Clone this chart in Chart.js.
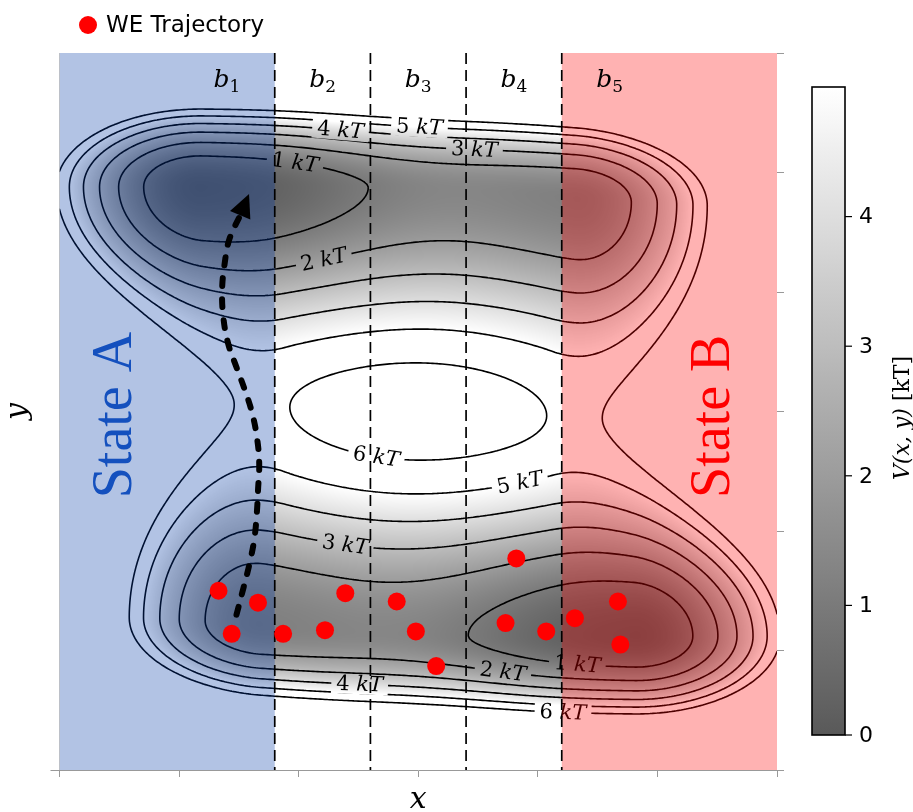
<!DOCTYPE html>
<html>
<head>
<meta charset="utf-8">
<script src="https://cdn.jsdelivr.net/npm/chart.js@4.4.1/dist/chart.umd.min.js"></script>
<style>
  html, body { margin: 0; padding: 0; background: #fff; }
  #wrap { width: 913px; height: 812px; }
</style>
</head>
<body>
<div id="wrap"><canvas id="chart" width="913" height="812"></canvas></div>
<script>
// ---------------------------------------------------------------
// Data (data units, axes run 0..6)
// ---------------------------------------------------------------
const weX = [1.33, 1.66, 1.44, 1.87, 2.22, 2.39, 2.82, 2.98, 3.15, 3.82, 3.73, 4.07, 4.31, 4.67, 4.69];
const weY = [1.50, 1.40, 1.14, 1.14, 1.17, 1.48, 1.41, 1.16, 0.87, 1.77, 1.23, 1.16, 1.27, 1.41, 1.05];

// dashed arrow path, last point is the arrow tip
const arrowX = [1.48, 1.54, 1.59, 1.63, 1.65, 1.66, 1.67, 1.65, 1.61, 1.55, 1.48, 1.41, 1.37, 1.36, 1.38, 1.42, 1.51, 1.585];
const arrowY = [1.30, 1.53, 1.73, 1.94, 2.15, 2.34, 2.57, 2.79, 2.99, 3.18, 3.37, 3.57, 3.79, 4.02, 4.23, 4.44, 4.64, 4.82];

const binEdges = [1.8, 2.6, 3.4, 4.2];
const binLabelX = [1.4, 2.2, 3.0, 3.8, 4.6];
const binLabels = ['1', '2', '3', '4', '5'];
const stateA = [0, 1.8];
const stateB = [4.2, 6];

const contourLevels = [1, 2, 3, 4, 5, 6];
const labelLevel = [1, 4, 5, 3, 2, 6, 5, 3, 4, 2, 1, 6];
const labelX = [1.97, 2.35, 3.01, 3.47, 2.22, 2.65, 3.85, 2.39, 2.50, 3.71, 4.34, 4.21];
const labelY = [5.04, 5.36, 5.40, 5.21, 4.25, 2.68, 2.45, 1.93, 0.71, 0.88, 0.94, 0.52];

const cbTicks = [0, 1, 2, 3, 4];
const cbMax = 5;

// ---------------------------------------------------------------
// Model potential V(x, y) in kT (two channels, two wells each,
// point symmetric about the centre (3, 3))
// ---------------------------------------------------------------
const wellLeftX = 1.2, wellRightX = 4.31, wellRightDepth = 1.1, endWallK = 4;
const stepMid = 2.2, stepWidth = 0.35, bumpX = 3.2, bumpH = 0.3, bumpW = 0.6;
const chanY0 = 4.88, chanDrop = 0.17, dropX = 4.2, dropW = 0.5;
const outerWallK = 14;
const ridgeBase = 6.6, ridgeCurv = 0.52, ridgeEndK = 3.6, ridgeEdge = 1.88;

const sig = z => 1 / (1 + Math.exp(-z));
const gauss = (z, w) => Math.exp(-z * z / (2 * w * w));
const sq = z => z * z;

function chanFloor(x) {
  const l = Math.max(0, wellLeftX - x), r = Math.max(0, x - wellRightX);
  return endWallK * (l * l + r * r) + wellRightDepth * sig((x - stepMid) / stepWidth) + bumpH * gauss(x - bumpX, bumpW);
}
function chanCenter(x) {
  return chanY0 - chanDrop * sig((x - dropX) / dropW);
}
function ridge(x) {
  return ridgeBase - ridgeCurv * sq(x - 3)
    + ridgeEndK * (sq(Math.max(0, ridgeEdge - x)) + sq(Math.max(0, x - (6 - ridgeEdge))));
}
function V(x, y) {
  const yU = chanCenter(x), yL = 6 - chanCenter(6 - x);
  const fU = chanFloor(x), fL = chanFloor(6 - x);
  if (y >= yU) return fU + outerWallK * (y - yU) ** 2;
  if (y <= yL) return fL + outerWallK * (yL - y) ** 2;
  const R = ridge(x);
  const t = (y - yL) / (yU - yL);
  if (t >= 0.5) return R - (R - fU) * (1 - Math.cos(Math.PI * (2 * t - 1))) / 2;
  return R - (R - fL) * (1 - Math.cos(Math.PI * (1 - 2 * t))) / 2;
}

// gray colormap shown at 65% opacity over white
const heatAlpha = 0.65;
function heatGray(v) {
  const s = Math.min(1, Math.max(0, v / cbMax));
  return Math.round(255 - heatAlpha * 255 * (1 - s));
}

// ---------------------------------------------------------------
// Contours (marching squares on a grid in data space)
// ---------------------------------------------------------------
const NG = 300, GS = 6 / NG;
const grid = [];
for (let j = 0; j <= NG; j++) {
  const row = new Float64Array(NG + 1);
  for (let i = 0; i <= NG; i++) row[i] = V(i * GS, j * GS);
  grid.push(row);
}
function contourSegments(level) {
  const segs = [];
  for (let j = 0; j < NG; j++) {
    for (let i = 0; i < NG; i++) {
      const a = grid[j][i], b = grid[j][i + 1], c = grid[j + 1][i + 1], d = grid[j + 1][i];
      const idx = (a > level ? 1 : 0) | (b > level ? 2 : 0) | (c > level ? 4 : 0) | (d > level ? 8 : 0);
      if (idx === 0 || idx === 15) continue;
      const x0 = i * GS, y0 = j * GS;
      const e = [];
      if ((a > level) !== (b > level)) e[0] = [x0 + GS * (level - a) / (b - a), y0];
      if ((b > level) !== (c > level)) e[1] = [x0 + GS, y0 + GS * (level - b) / (c - b)];
      if ((d > level) !== (c > level)) e[2] = [x0 + GS * (level - d) / (c - d), y0 + GS];
      if ((a > level) !== (d > level)) e[3] = [x0, y0 + GS * (level - a) / (d - a)];
      if (idx === 5 || idx === 10) {
        const centerUp = (a + b + c + d) / 4 > level;
        if ((idx === 5) === centerUp) { segs.push([e[0], e[1]], [e[2], e[3]]); }
        else { segs.push([e[0], e[3]], [e[1], e[2]]); }
      } else {
        const pts = e.filter(p => p);
        segs.push([pts[0], pts[1]]);
      }
    }
  }
  return segs;
}
const segsByLevel = {};
contourLevels.forEach(l => { segsByLevel[l] = contourSegments(l); });

const serif = "'DejaVu Serif', serif";

// ---------------------------------------------------------------
// Plugin: heat map, contours, overlays, colour bar, arrow head
// ---------------------------------------------------------------
const potentialPlugin = {
  id: 'potential',
  beforeDatasetsDraw(chart) {
    const ctx = chart.ctx, area = chart.chartArea;
    const xs = chart.scales.x, ys = chart.scales.y;
    const X = v => xs.getPixelForValue(v), Y = v => ys.getPixelForValue(v);

    ctx.save();
    ctx.beginPath();
    ctx.rect(area.left, area.top, area.right - area.left, area.bottom - area.top);
    ctx.clip();

    // heat map
    const x0 = Math.floor(area.left), y0 = Math.floor(area.top);
    const w = Math.ceil(area.right) - x0, h = Math.ceil(area.bottom) - y0;
    const off = document.createElement('canvas');
    off.width = w; off.height = h;
    const octx = off.getContext('2d');
    const img = octx.createImageData(w, h);
    for (let j = 0; j < h; j++) {
      const y = ys.getValueForPixel(y0 + j + 0.5);
      for (let i = 0; i < w; i++) {
        const x = xs.getValueForPixel(x0 + i + 0.5);
        const g = heatGray(V(x, y));
        const k = (j * w + i) * 4;
        img.data[k] = img.data[k + 1] = img.data[k + 2] = g;
        img.data[k + 3] = 255;
      }
    }
    octx.putImageData(img, 0, 0);
    ctx.drawImage(off, x0, y0);

    // contour labels: snap to the nearest point of their contour
    const labels = labelLevel.map((lev, k) => {
      const ax = X(labelX[k]), ay = Y(labelY[k]);
      let best = null, bestD = Infinity;
      segsByLevel[lev].forEach(s => {
        const p1 = [X(s[0][0]), Y(s[0][1])], p2 = [X(s[1][0]), Y(s[1][1])];
        const mx = (p1[0] + p2[0]) / 2, my = (p1[1] + p2[1]) / 2;
        const dd = (mx - ax) ** 2 + (my - ay) ** 2;
        if (dd < bestD) { bestD = dd; best = [p1, p2, mx, my]; }
      });
      let ang = Math.atan2(best[1][1] - best[0][1], best[1][0] - best[0][0]);
      if (ang > Math.PI / 2) ang -= Math.PI;
      if (ang < -Math.PI / 2) ang += Math.PI;
      const num = lev + ' ', unit = 'kT';
      ctx.font = '21px ' + serif;
      const wn = ctx.measureText(num).width;
      ctx.font = 'italic 21px ' + serif;
      const wu = ctx.measureText(unit).width;
      return { cx: best[2], cy: best[3], ang, wn, wu, num, unit };
    });

    // contour lines with gaps under the labels
    ctx.save();
    ctx.beginPath();
    ctx.rect(area.left, area.top, area.right - area.left, area.bottom - area.top);
    labels.forEach(L => {
      const hw = (L.wn + L.wu) / 2 + 5, hh = 10;
      const ux = Math.cos(L.ang), uy = Math.sin(L.ang), vx = -uy, vy = ux;
      const pts = [[-hw, -hh], [hw, -hh], [hw, hh], [-hw, hh]].map(([a, b]) => [L.cx + ux * a + vx * b, L.cy + uy * a + vy * b]);
      ctx.moveTo(pts[0][0], pts[0][1]);
      pts.slice(1).forEach(p => ctx.lineTo(p[0], p[1]));
      ctx.closePath();
    });
    ctx.clip('evenodd');
    ctx.strokeStyle = '#000';
    ctx.lineWidth = 1.6;
    ctx.lineCap = 'round';
    contourLevels.forEach(l => {
      ctx.beginPath();
      segsByLevel[l].forEach(s => {
        ctx.moveTo(X(s[0][0]), Y(s[0][1]));
        ctx.lineTo(X(s[1][0]), Y(s[1][1]));
      });
      ctx.stroke();
    });
    ctx.restore();

    // label text
    ctx.fillStyle = '#000';
    ctx.textBaseline = 'middle';
    ctx.textAlign = 'left';
    labels.forEach(L => {
      ctx.save();
      ctx.translate(L.cx, L.cy);
      ctx.rotate(L.ang);
      const x = -(L.wn + L.wu) / 2;
      ctx.font = '21px ' + serif;
      ctx.fillText(L.num, x, 1);
      ctx.font = 'italic 21px ' + serif;
      ctx.fillText(L.unit, x + L.wn, 1);
      ctx.restore();
    });

    // state overlays
    ctx.fillStyle = 'rgba(0, 55, 165, 0.3)';
    ctx.fillRect(X(stateA[0]), Y(6), X(stateA[1]) - X(stateA[0]), Y(0) - Y(6));
    ctx.fillStyle = 'rgba(255, 0, 0, 0.3)';
    ctx.fillRect(X(stateB[0]), Y(6), X(stateB[1]) - X(stateB[0]), Y(0) - Y(6));

    // bin boundaries
    ctx.strokeStyle = '#000';
    ctx.lineWidth = 1.7;
    ctx.setLineDash([11, 6]);
    ctx.lineCap = 'butt';
    binEdges.forEach(e => {
      ctx.beginPath();
      ctx.moveTo(X(e), Y(6));
      ctx.lineTo(X(e), Y(0));
      ctx.stroke();
    });
    ctx.setLineDash([]);

    // bin labels
    ctx.fillStyle = '#000';
    ctx.textBaseline = 'alphabetic';
    ctx.textAlign = 'left';
    binLabelX.forEach((bx, k) => {
      ctx.font = 'italic 25px ' + serif;
      const wb = ctx.measureText('b').width;
      ctx.font = '17px ' + serif;
      const ws = ctx.measureText(binLabels[k]).width;
      const left = X(bx) - (wb + ws) / 2;
      const base = Y(5.79) + 9;
      ctx.font = 'italic 25px ' + serif;
      ctx.fillText('b', left, base);
      ctx.font = '17px ' + serif;
      ctx.fillText(binLabels[k], left + wb, base + 5);
    });

    // state names
    ctx.textAlign = 'center';
    ctx.textBaseline = 'middle';
    ctx.font = "56px 'Liberation Serif', serif";
    [['State A', '#1450be', 0.46, 2.97], ['State B', '#ff0000', 5.46, 2.96]].forEach(([txt, col, sx, sy]) => {
      ctx.save();
      ctx.translate(X(sx), Y(sy));
      ctx.rotate(-Math.PI / 2);
      ctx.fillStyle = col;
      ctx.fillText(txt, 0, 2);
      ctx.restore();
    });

    ctx.restore();
  },

  afterDatasetsDraw(chart) {
    const ctx = chart.ctx;
    const xs = chart.scales.x, ys = chart.scales.y;
    const n = arrowX.length;
    const tx = xs.getPixelForValue(arrowX[n - 1]), ty = ys.getPixelForValue(arrowY[n - 1]);
    const bx = xs.getPixelForValue(arrowX[n - 2]), by = ys.getPixelForValue(arrowY[n - 2]);
    const ang = Math.atan2(ty - by, tx - bx);
    const len = 23, half = 11;
    ctx.save();
    ctx.translate(tx, ty);
    ctx.rotate(ang);
    ctx.fillStyle = '#000';
    ctx.beginPath();
    ctx.moveTo(0, 0);
    ctx.lineTo(-len, -half);
    ctx.lineTo(-len, half);
    ctx.closePath();
    ctx.fill();
    ctx.restore();
  },

  afterDraw(chart) {
    const ctx = chart.ctx, area = chart.chartArea;
    // colour bar
    const cbL = area.right + 35, cbR = cbL + 33, cbT = area.top + 34, cbB = area.bottom - 35;
    const grad = ctx.createLinearGradient(0, cbB, 0, cbT);
    for (let k = 0; k <= 20; k++) {
      const g = heatGray(cbMax * k / 20);
      grad.addColorStop(k / 20, `rgb(${g},${g},${g})`);
    }
    ctx.save();
    ctx.fillStyle = grad;
    ctx.fillRect(cbL, cbT, cbR - cbL, cbB - cbT);
    ctx.strokeStyle = '#000';
    ctx.lineWidth = 1.6;
    ctx.strokeRect(cbL, cbT, cbR - cbL, cbB - cbT);
    ctx.font = "22px 'DejaVu Sans', sans-serif";
    ctx.fillStyle = '#000';
    ctx.textAlign = 'left';
    ctx.textBaseline = 'middle';
    ctx.lineWidth = 1.2;
    cbTicks.forEach(v => {
      const yy = cbB - (v / cbMax) * (cbB - cbT);
      ctx.beginPath();
      ctx.moveTo(cbR, yy);
      ctx.lineTo(cbR + 7, yy);
      ctx.stroke();
      ctx.fillText(String(v), cbR + 14, yy + 1);
    });
    // colour bar title
    ctx.translate(903, 418);
    ctx.rotate(-Math.PI / 2);
    ctx.font = 'italic 22px ' + serif;
    const w1 = ctx.measureText('V(x, y)').width;
    ctx.font = '22px ' + serif;
    const w2 = ctx.measureText(' [kT]').width;
    ctx.font = 'italic 22px ' + serif;
    ctx.fillText('V(x, y)', -(w1 + w2) / 2, 0);
    ctx.font = '22px ' + serif;
    ctx.fillText(' [kT]', -(w1 + w2) / 2 + w1, 0);
    ctx.restore();

    // legend
    ctx.save();
    ctx.fillStyle = '#ff0000';
    ctx.beginPath();
    ctx.arc(88, 25, 9, 0, Math.PI * 2);
    ctx.fill();
    ctx.fillStyle = '#000';
    ctx.font = "23px 'DejaVu Sans', sans-serif";
    ctx.textBaseline = 'middle';
    ctx.textAlign = 'left';
    ctx.fillText('WE Trajectory', 106, 26);
    ctx.restore();
  }
};

const axisGray = '#999';

new Chart(document.getElementById('chart'), {
  type: 'scatter',
  data: {
    datasets: [
      {
        type: 'line',
        label: 'arrow',
        data: arrowX.slice(0, -1).map((x, i) => ({ x, y: arrowY[i] })),
        borderColor: '#000',
        borderWidth: 6,
        borderDash: [8, 13],
        borderCapStyle: 'round',
        pointRadius: 0,
        tension: 0.4,
        fill: false,
        xAxisID: 'x',
        yAxisID: 'y'
      },
      {
        label: 'WE Trajectory',
        data: weX.map((x, i) => ({ x, y: weY[i] })),
        backgroundColor: '#ff0000',
        borderWidth: 0,
        pointRadius: 9,
        xAxisID: 'x',
        yAxisID: 'y'
      }
    ]
  },
  options: {
    responsive: false,
    devicePixelRatio: 1,
    animation: false,
    layout: { padding: { top: 53, left: 0, right: 0, bottom: 0 } },
    plugins: { legend: { display: false }, tooltip: { enabled: false } },
    scales: {
      x: {
        type: 'linear', position: 'bottom', min: 0, max: 6,
        ticks: { stepSize: 1, callback: () => '' },
        grid: { drawOnChartArea: false, color: axisGray, tickLength: 7 },
        border: { color: axisGray, width: 1 },
        title: {
          display: true, text: 'x', color: '#000', padding: { top: 0, bottom: 0 },
          font: { family: 'DejaVu Serif', style: 'italic', size: 30, lineHeight: 0.8 }
        },
        afterFit: s => { s.height = 42; }
      },
      y: {
        type: 'linear', position: 'right', min: 0, max: 6,
        ticks: { stepSize: 1, callback: () => '' },
        grid: { drawOnChartArea: false, color: axisGray, tickLength: 7 },
        border: { display: false },
        afterFit: s => { s.width = 136; }
      },
      yL: {
        type: 'linear', position: 'left', min: 0, max: 6,
        ticks: { stepSize: 1, callback: () => '' },
        grid: {
          drawOnChartArea: false, tickLength: 9,
          color: c => (c.tick && c.tick.value === 0 ? axisGray : 'rgba(0,0,0,0)')
        },
        border: { color: axisGray, width: 1 },
        title: {
          display: true, text: 'y', color: '#000', padding: { top: 0, bottom: 0 },
          font: { family: 'DejaVu Serif', style: 'italic', size: 30 }
        },
        afterFit: s => { s.width = 59.5; }
      }
    }
  },
  plugins: [potentialPlugin]
});
</script>
</body>
</html>
